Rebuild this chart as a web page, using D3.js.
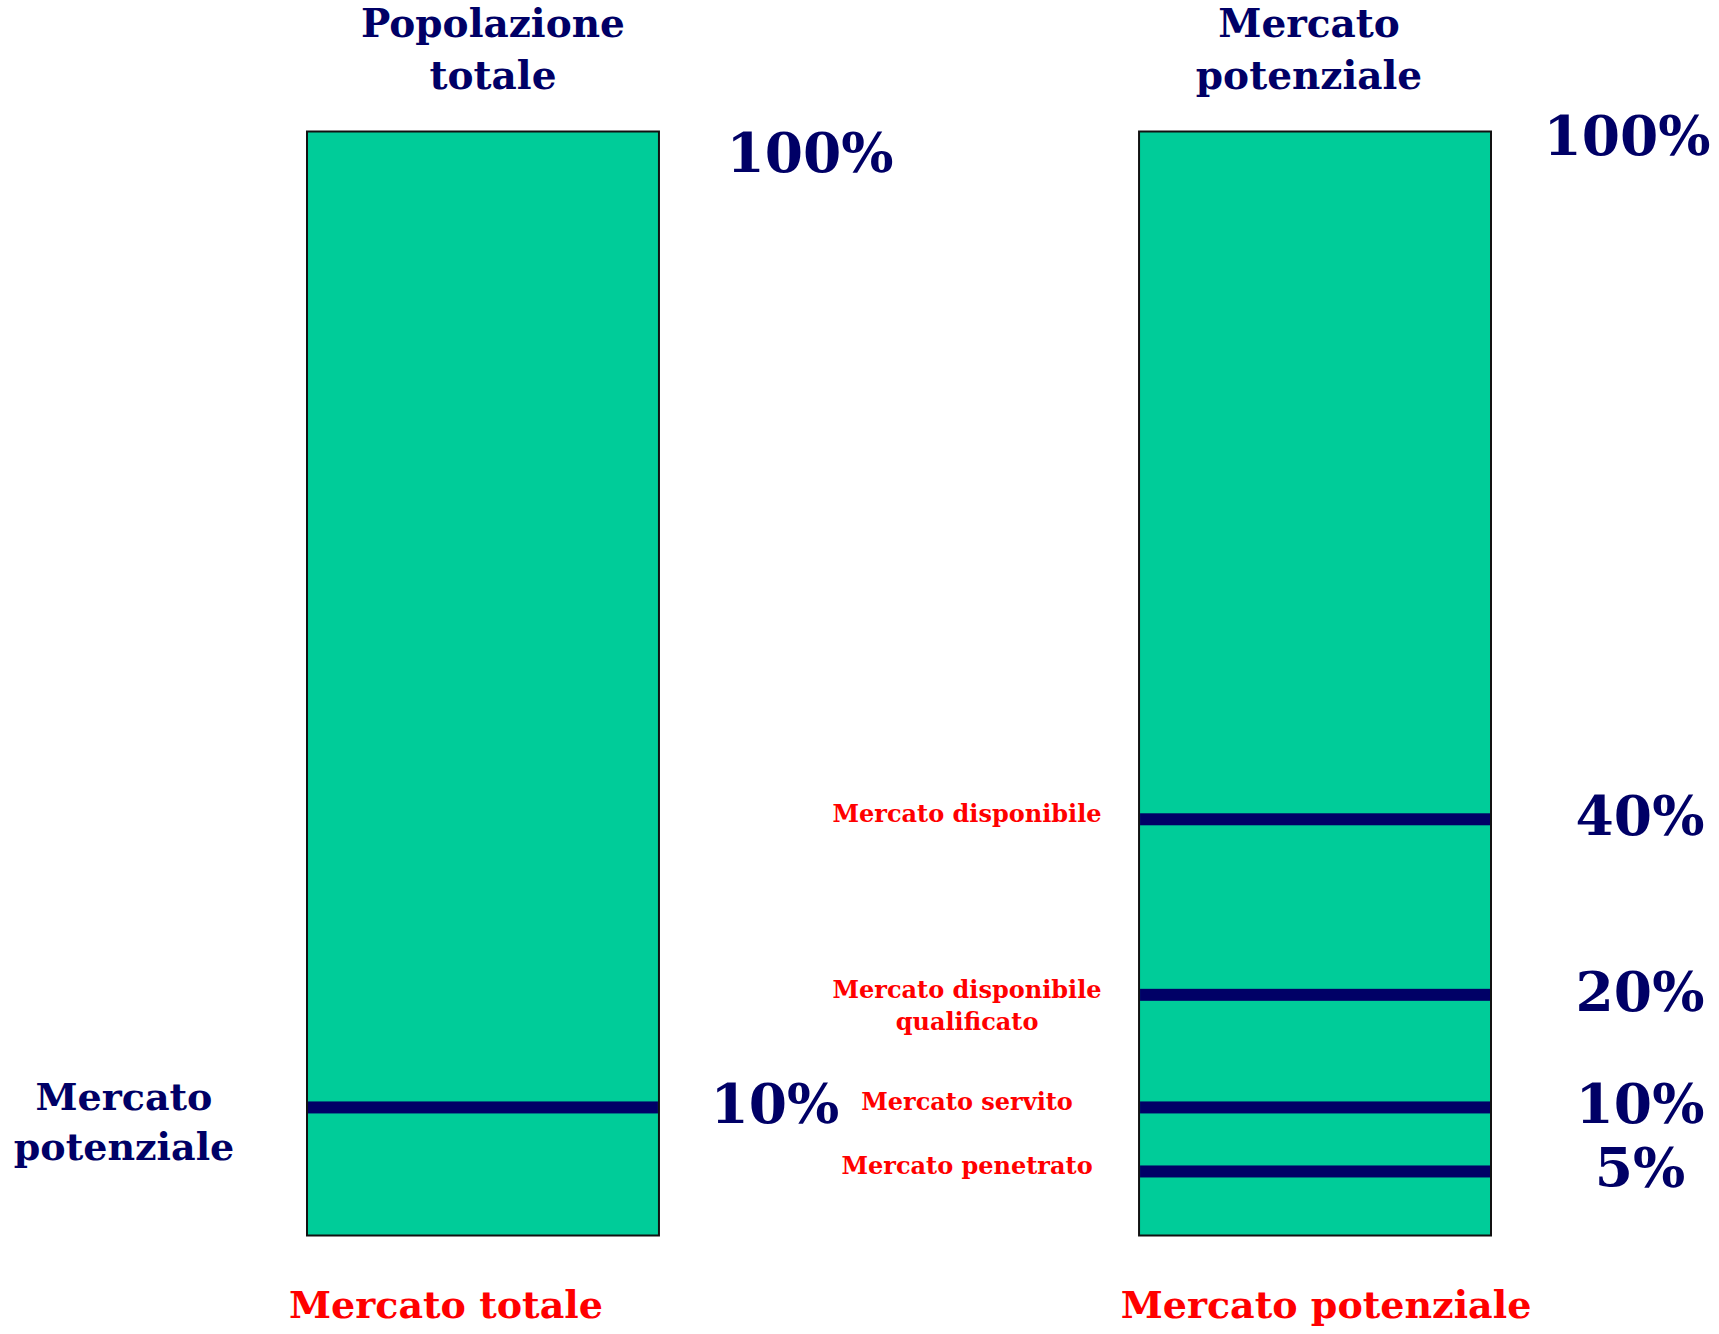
<!DOCTYPE html>
<html>
<head>
<meta charset="utf-8">
<script src="https://cdn.jsdelivr.net/npm/d3@7"></script>
<style>
  body { margin: 0; background: #fff; }
  text { font-family: "DejaVu Serif", serif; font-weight: bold; }
</style>
</head>
<body>
<script>
'use strict';

// columns and their captions
const columns = ["Mercato totale", "Mercato potenziale"];
const titles = [["Popolazione", "totale"], ["Mercato", "potenziale"]];
const fullValue = 100;
const fullLabel = "100%";

// divider lines, read as share of the drawn bar height
const leftLevels = [11.6];
const leftPct = ["10%"];
const leftNames = [["Mercato", "potenziale"]];

const rightLevels = [37.7, 21.8, 11.6, 5.8];
const rightPct = ["40%", "20%", "10%", "5%"];
const rightNames = [["Mercato disponibile"], ["Mercato disponibile", "qualificato"],
                    ["Mercato servito"], ["Mercato penetrato"]];

const navy = "#000066", red = "#ff0000", green = "#00cc99";

const svg = d3.select("body").append("svg")
  .attr("width", 1719)
  .attr("height", 1334);

const x = d3.scaleBand()
  .domain(columns)
  .range([307, 1491])
  .paddingInner(0.577)
  .paddingOuter(0);

const y = d3.scaleLinear()
  .domain([0, fullValue])
  .range([1235.5, 131.5]);

const bw = x.bandwidth();

// bars
svg.selectAll(".bar")
  .data(columns)
  .enter().append("rect")
    .attr("class", "bar")
    .attr("x", d => x(d))
    .attr("y", y(fullValue))
    .attr("width", bw)
    .attr("height", y(0) - y(fullValue))
    .attr("fill", green)
    .attr("stroke", "#111")
    .attr("stroke-width", 2);

// titles above bars
const titleDx = [10, -6];
columns.forEach((c, i) => {
  svg.append("text")
    .attr("x", x(c) + bw / 2 + titleDx[i])
    .attr("y", 37)
    .attr("text-anchor", "middle")
    .attr("font-size", 39)
    .attr("fill", navy)
    .selectAll("tspan")
    .data(titles[i])
    .enter().append("tspan")
      .attr("x", x(c) + bw / 2 + titleDx[i])
      .attr("dy", (d, j) => j === 0 ? 0 : 52)
      .text(d => d);
});

// labels under bars
const footDx = [-37, 11];
svg.selectAll(".foot")
  .data(columns)
  .enter().append("text")
    .attr("class", "foot")
    .attr("x", (d, i) => x(d) + bw / 2 + footDx[i])
    .attr("y", 1318)
    .attr("text-anchor", "middle")
    .attr("font-size", 38)
    .attr("fill", red)
    .text(d => d);

// 100% labels
const fullPos = [[x(columns[0]) + bw + 151, 172], [x(columns[1]) + bw + 136, 155]];
fullPos.forEach(p => {
  svg.append("text")
    .attr("x", p[0])
    .attr("y", p[1])
    .attr("text-anchor", "middle")
    .attr("font-size", 55)
    .attr("fill", navy)
    .text(fullLabel);
});

// draw divider lines with their labels for a column
function drawLevels(col, levels, pcts, names, opts) {
  const x0 = x(col);
  svg.selectAll(".line-" + opts.key)
    .data(levels)
    .enter().append("rect")
      .attr("class", "line-" + opts.key)
      .attr("x", x0 + 1)
      .attr("y", d => y(d) - 6)
      .attr("width", bw - 2)
      .attr("height", 12)
      .attr("fill", navy);

  svg.selectAll(".pct-" + opts.key)
    .data(levels)
    .enter().append("text")
      .attr("class", "pct-" + opts.key)
      .attr("x", x0 + bw + opts.pctDx)
      .attr("y", d => y(d) + 16)
      .attr("text-anchor", "middle")
      .attr("font-size", 55)
      .attr("fill", navy)
      .text((d, i) => pcts[i]);

  levels.forEach((d, i) => {
    svg.append("text")
      .attr("x", x0 + opts.nameDx)
      .attr("y", y(d) + 3)
      .attr("text-anchor", "middle")
      .attr("font-size", opts.nameSize)
      .attr("fill", opts.nameColor)
      .selectAll("tspan")
      .data(names[i])
      .enter().append("tspan")
        .attr("x", x0 + opts.nameDx)
        .attr("dy", (t, j) => j === 0 ? 0 : opts.lineGap)
        .text(t => t);
  });
}

drawLevels(columns[0], leftLevels, leftPct, leftNames,
  { key: "l", pctDx: 116, nameDx: -183, nameSize: 38, nameColor: navy, lineGap: 50 });
drawLevels(columns[1], rightLevels, rightPct, rightNames,
  { key: "r", pctDx: 149, nameDx: -172, nameSize: 24, nameColor: red, lineGap: 32 });
</script>
</body>
</html>
